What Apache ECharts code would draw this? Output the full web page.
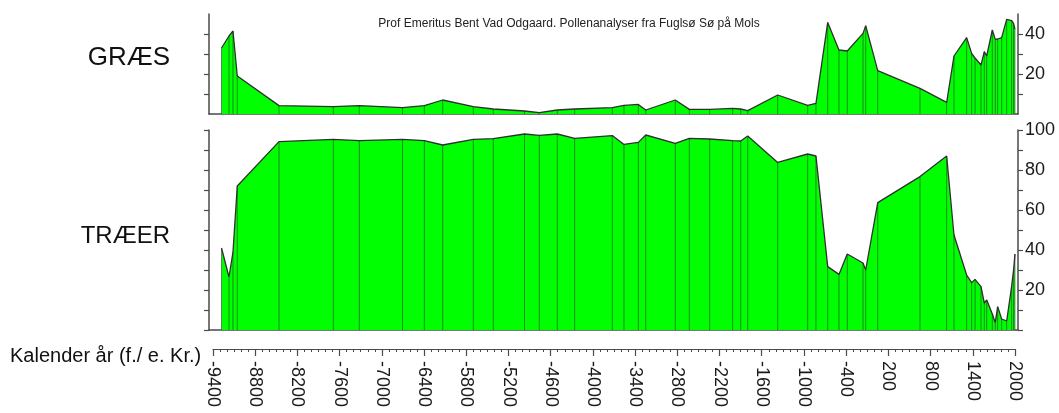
<!DOCTYPE html>
<html><head><meta charset="utf-8">
<script src="https://cdn.jsdelivr.net/npm/echarts@6/dist/echarts.min.js"></script>
<style>html,body{margin:0;padding:0;background:#fff}#c{width:1059px;height:413px}</style>
</head><body><div id="c"></div>
<script>
// sample ages (calendar years, negative = f.Kr.)
const years = [-9279, -9173, -9116, -9055, -8462, -7690, -7320, -6706, -6396, -6135,
  -5700, -5416, -4972, -4762, -4506, -4259, -3724, -3558, -3354, -3249,
  -2829, -2629, -2340, -2013, -1899, -1799, -1373, -947, -829, -662,
  -502, -384, -160, -122, 49, 650, 1029, 1133, 1313, 1384,
  1432, 1517, 1564, 1598, 1678, 1720, 1754, 1811, 1882, 1953, 1980, 2000];
// GRÆS (%)
const graes = [33, 39, 41.5, 19, 4.2, 3.7, 4.2, 3.2, 4.2, 7,
  3.7, 2.5, 1.5, 0.7, 2, 2.5, 3.2, 4.3, 4.8, 2,
  7, 2.3, 2.3, 2.8, 2.5, 1.7, 9.5, 4.3, 5.3, 45.8,
  32, 31.5, 40.3, 44.2, 21.7, 12.8, 5.8, 29, 38.2, 30.3,
  28, 24.5, 31.2, 29, 42, 37.3, 37.5, 38.2, 47.3, 46.7, 45.3, 42.3];
// TRÆER (%)
const traeer = [41, 26.5, 39, 72, 94.2, 95.3, 94.7, 95.3, 94.7, 92.5,
  95.3, 95.7, 98, 97.3, 98, 95.8, 97.2, 92.8, 93.8, 97.5,
  93.3, 95.8, 95.5, 94.7, 94.5, 97, 83.8, 88, 87, 31.7,
  27.8, 38, 33.5, 30, 63.7, 76.7, 87, 47.5, 27.5, 23.7,
  25.3, 21.7, 13.5, 15, 8, 3.7, 11.7, 5.5, 4.5, 22, 30, 38];
// tick labels
const xTickYears = [-9400, -8800, -8200, -7600, -7000, -6400, -5800, -5200, -4600, -4000,
  -3400, -2800, -2200, -1600, -1000, -400, 200, 800, 1400, 2000];
const graesTicks = [10, 20, 30, 40];
const graesLabels = [20, 40];
const traeerTicks = [0, 10, 20, 30, 40, 50, 60, 70, 80, 90, 100];
const traeerLabels = [20, 40, 60, 80, 100];

const xMinor = [];
for (let v = -9400; v <= 2000; v += 100) xMinor.push(v);

const FONT = "'Liberation Sans', Arial, sans-serif";
const AX = '#4a4a4a';
const chart = echarts.init(document.getElementById('c'), null, {renderer: 'canvas'});

function panelX(gi) {
  return {type: 'value', gridIndex: gi, min: -9457, max: 2043,
    axisLine: {show: true, onZero: false, lineStyle: {color: AX, width: 1.5}},
    axisTick: {show: false}, axisLabel: {show: false}, splitLine: {show: false}};
}
function panelY(gi, max, pos, ticks, labels) {
  return {type: 'value', gridIndex: gi, min: 0, max: max, position: pos,
    axisLine: {show: true, onZero: false, lineStyle: {color: AX, width: 1.5}},
    axisTick: {show: true, length: 5, customValues: ticks, lineStyle: {color: AX, width: 1.2}},
    axisLabel: labels ? {show: true, customValues: labels, fontSize: 18, color: '#1a1a1a', fontFamily: FONT, margin: 7}
                      : {show: false},
    splitLine: {show: false}};
}
function areaSeries(ai, data) {
  return {type: 'line', xAxisIndex: ai, yAxisIndex: ai * 2, data: data, symbol: 'none',
    lineStyle: {color: '#303030', width: 1.3}, areaStyle: {color: '#00ff00', opacity: 1},
    z: 2, animation: false};
}
function stemSeries(ai, data) {
  return {type: 'custom', xAxisIndex: ai, yAxisIndex: ai * 2, data: data, z: 3, animation: false,
    encode: {x: 0, y: 1},
    renderItem: function (params, api) {
      const p0 = api.coord([api.value(0), 0]);
      const p1 = api.coord([api.value(0), api.value(1)]);
      return {type: 'line', shape: {x1: p0[0], y1: p0[1], x2: p1[0], y2: p1[1]},
        style: {stroke: 'rgba(45,45,45,0.55)', lineWidth: 1}};
    }};
}

const gData = years.map((y, i) => [y, graes[i]]);
const tData = years.map((y, i) => [y, traeer[i]]);

chart.setOption({
  animation: false,
  backgroundColor: '#fff',
  textStyle: {fontFamily: FONT},
  title: {text: 'Prof Emeritus Bent Vad Odgaard. Pollenanalyser fra Fuglsø Sø på Mols',
    left: 564, top: 13, textAlign: 'center',
    textStyle: {fontSize: 12, fontWeight: 'normal', color: '#222', fontFamily: FONT}},
  grid: [
    {left: 209, width: 809, top: 14, height: 100},
    {left: 209, width: 809, top: 130, height: 200},
    {left: 213, width: 802, top: 348, height: 1}
  ],
  xAxis: [
    panelX(0), panelX(1),
    {type: 'value', gridIndex: 2, min: -9400, max: 2000, position: 'bottom',
      axisLine: {show: true, onZero: false, lineStyle: {color: AX, width: 1.2}},
      axisTick: {show: true, length: 7, customValues: xTickYears, lineStyle: {color: AX, width: 1.2}},
      axisLabel: {show: true, customValues: xTickYears, rotate: -90, fontSize: 18, color: '#1a1a1a',
        fontFamily: FONT, margin: 12, formatter: function (v) { return String(v); }},
      splitLine: {show: false}},
    {type: 'value', gridIndex: 2, min: -9400, max: 2000, position: 'bottom',
      axisLine: {show: false},
      axisTick: {show: true, length: 3, customValues: xMinor, lineStyle: {color: AX, width: 1}},
      axisLabel: {show: false}, splitLine: {show: false}}
  ],
  yAxis: [
    panelY(0, 50, 'left', graesTicks, null),
    panelY(0, 50, 'right', graesTicks, graesLabels),
    panelY(1, 100, 'left', traeerTicks, null),
    panelY(1, 100, 'right', traeerTicks, traeerLabels),
    {type: 'value', gridIndex: 2, show: false}
  ],
  graphic: [
    {type: 'text', right: 1059 - 170, top: 45,
      style: {text: 'GRÆS', font: '26px ' + FONT, fill: '#111', textAlign: 'right'}},
    {type: 'text', right: 1059 - 170, top: 224,
      style: {text: 'TRÆER', font: '24px ' + FONT, fill: '#111', textAlign: 'right'}},
    {type: 'text', left: 10, top: 346,
      style: {text: 'Kalender år (f./ e. Kr.)', font: '20px ' + FONT, fill: '#111'}}
  ],
  series: [
    areaSeries(0, gData), stemSeries(0, gData),
    areaSeries(1, tData), stemSeries(1, tData)
  ]
});
</script>
</body></html>
